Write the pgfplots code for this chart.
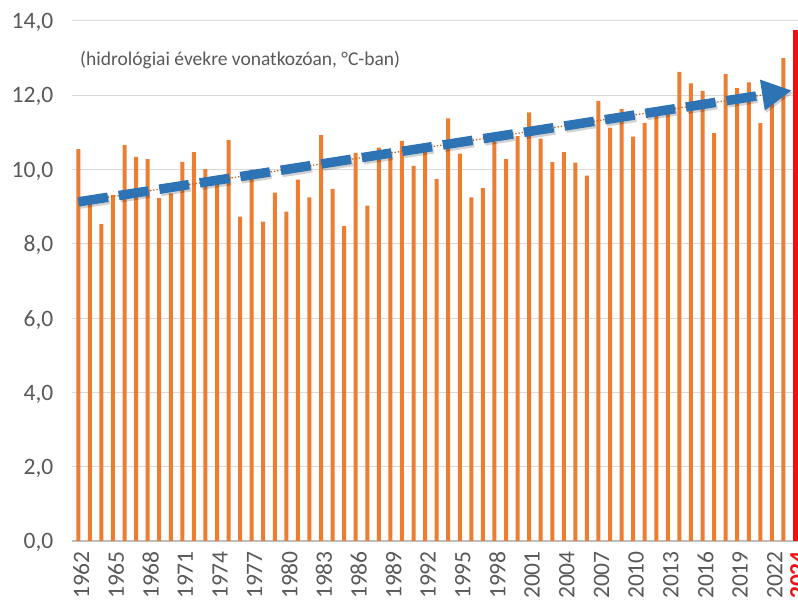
\documentclass[border=0pt]{standalone}
\usepackage{pgfplots}
\pgfplotsset{compat=1.18}
\usepackage{pgfplotstable}
\usetikzlibrary{arrows.meta}
\usepackage{fontspec}
\setmainfont{Carlito}
\definecolor{barorange}{HTML}{ED7D31}
\definecolor{arrowblue}{HTML}{2E74B5}
\definecolor{txtgray}{HTML}{595959}
\definecolor{gridgray}{HTML}{D9D9D9}
\definecolor{axgray}{HTML}{BFBFBF}
\definecolor{hlred}{HTML}{F01010}

\pgfplotstableread{
year value
1962 10.55
1963 9.15
1964 8.53
1965 9.32
1966 10.66
1967 10.34
1968 10.28
1969 9.23
1970 9.36
1971 10.21
1972 10.47
1973 10.01
1974 9.60
1975 10.79
1976 8.73
1977 10.00
1978 8.60
1979 9.38
1980 8.87
1981 9.73
1982 9.25
1983 10.93
1984 9.48
1985 8.48
1986 10.45
1987 9.03
1988 10.59
1989 10.35
1990 10.77
1991 10.10
1992 10.50
1993 9.75
1994 11.38
1995 10.43
1996 9.25
1997 9.50
1998 10.75
1999 10.28
2000 10.90
2001 11.54
2002 10.83
2003 10.20
2004 10.47
2005 10.19
2006 9.84
2007 11.85
2008 11.13
2009 11.63
2010 10.89
2011 11.26
2012 11.45
2013 11.50
2014 12.63
2015 12.32
2016 12.12
2017 10.98
2018 12.57
2019 12.19
2020 12.35
2021 11.25
2022 11.90
2023 13.00
}\tempdata

\pgfplotstableread{
year value
2024 13.76
}\lastyear

\begin{document}
\begin{tikzpicture}
\begin{axis}[
  at={(72.5pt,61pt)}, anchor=south west,
  scale only axis,
  width=728.3pt, height=520pt,
  xmin=1961.5, xmax=2024.5,
  ymin=0, ymax=14,
  ytick={0,2,...,14},
  xtick={1962.25,1965.25,1968.25,1971.25,1974.25,1977.25,1980.25,1983.25,1986.25,1989.25,1992.25,1995.25,1998.25,2001.25,2004.25,2007.25,2010.25,2013.25,2016.25,2019.25,2022.25,2024.25},
  xticklabels={1962,1965,1968,1971,1974,1977,1980,1983,1986,1989,1992,1995,1998,2001,2004,2007,2010,2013,2016,2019,2022,{\textcolor{hlred}{\bfseries 2024}}},
  major tick length=0pt,
  axis lines*=left,
  x axis line style={draw=axgray, line width=1.2pt},
  y axis line style={draw=none},
  ymajorgrids,
  grid style={draw=gridgray, line width=1pt},
  tick label style={font=\fontsize{23.5}{26}\selectfont, text=txtgray},
  /pgf/number format/assume math mode=true,
  yticklabel style={/pgf/number format/.cd, fixed, fixed zerofill, precision=1, use comma, /tikz/.cd, anchor=east, inner sep=0pt, text depth=0pt, xshift=-19pt},
  xticklabel style={rotate=90, anchor=east, inner sep=10pt, text depth=0pt},
  clip=false,
]
\addplot[ybar, bar shift=0pt, bar width=4pt, fill=barorange, draw=none] table[x=year, y=value] {\tempdata};
\addplot[ybar, bar shift=0pt, bar width=5pt, fill=hlred, draw=none] table[x=year, y=value] {\lastyear};
% trend line (dotted) under the arrow
\addplot[color=barorange!80!black, line width=1.3pt, dotted] coordinates {(1962,9.13) (2023.5,12.12)};
% shadow of the arrow
\addplot[color=black, opacity=0.18, line width=9.5pt, dash pattern=on 30pt off 11pt, -{Triangle[length=30pt,width=29pt]}] coordinates {(1962.13,9.07) (2023.87,12.07)};
% arrow
\addplot[color=arrowblue, line width=9.5pt, dash pattern=on 30pt off 11pt, -{Triangle[length=30pt,width=29pt]}] coordinates {(1962,9.13) (2023.74,12.13)};
\node[anchor=west, inner sep=0pt, text=txtgray, font=\fontsize{19.5}{22}\selectfont] at (axis cs:1962.15,12.95) {(hidrológiai évekre vonatkozóan, °C-ban)};
\end{axis}
\pgfresetboundingbox
\useasboundingbox (0,0) rectangle (798pt,602pt);
\end{tikzpicture}
\end{document}
